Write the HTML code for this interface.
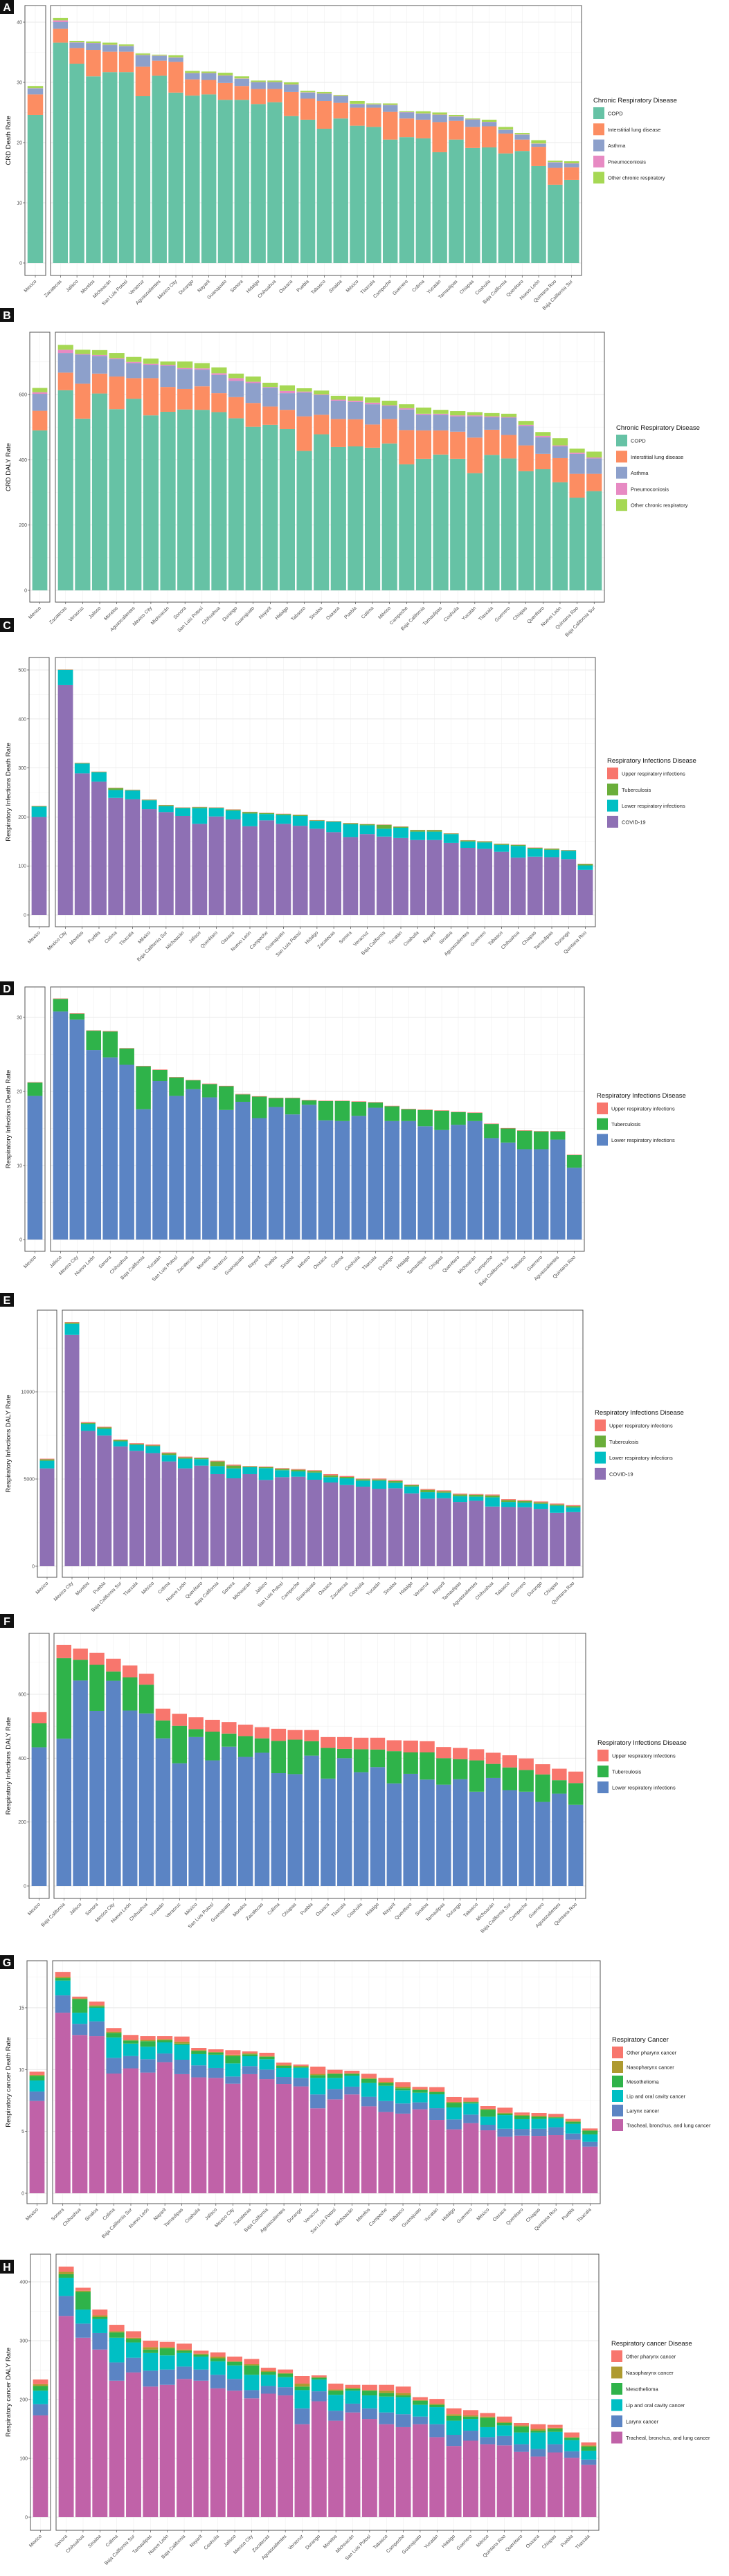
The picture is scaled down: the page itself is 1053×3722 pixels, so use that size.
<!DOCTYPE html>
<html><head><meta charset="utf-8"><style>
html,body{margin:0;padding:0;background:#fff;}
svg{display:block;font-family:"Liberation Sans",sans-serif;}
</style></head><body>
<svg id="fig" xmlns="http://www.w3.org/2000/svg" width="1053" height="3722" viewBox="0 0 1053 3722"></svg>
<script>
// ===== Panel A: CRD death rate (stacked tops, Mexico first) =====
const A_states=["Mexico","Zacatecas","Jalisco","Morelos","Michoacán","San Luis Potosí","Veracruz","Aguascalientes","Mexico City","Durango","Nayarit","Guanajuato","Sonora","Hidalgo","Chihuahua","Oaxaca","Puebla","Tabasco","Sinaloa","México","Tlaxcala","Campeche","Guerrero","Colima","Yucatán","Tamaulipas","Chiapas","Coahuila","Baja California","Querétaro","Nuevo León","Quintana Roo","Baja California Sur"];
const A_copd=[24.6,36.6,33.1,31.0,31.7,31.7,27.7,31.1,28.3,27.8,28.0,27.1,27.1,26.4,26.7,24.4,23.8,22.3,24.0,22.8,22.6,20.5,20.9,20.7,18.4,20.5,19.1,19.2,18.2,18.6,16.1,13.0,13.8];
const A_ild=[28.0,38.9,35.7,35.4,35.1,35.1,32.6,33.6,33.4,30.5,30.4,29.9,29.4,28.9,28.9,28.4,27.3,26.9,26.6,25.8,25.8,25.1,24.0,23.8,23.4,23.6,22.6,22.7,21.5,20.5,19.3,15.8,15.9];
const A_asthma=[29.0,40.0,36.6,36.5,36.2,36.0,34.5,34.4,34.1,31.5,31.5,31.1,30.6,30.0,30.0,29.6,28.3,28.1,27.7,26.4,26.3,26.2,25.0,24.8,24.6,24.3,23.8,23.4,22.1,21.3,19.8,16.7,16.5];
const A_pneumo=[29.05,40.3,36.65,36.55,36.25,36.05,34.55,34.45,34.15,31.55,31.55,31.15,30.65,30.05,30.05,29.65,28.35,28.15,27.75,26.45,26.35,26.25,25.05,24.85,24.65,24.35,23.85,23.45,22.15,21.35,19.85,16.75,16.55];
const A_other=[29.4,40.7,36.9,36.8,36.6,36.3,34.8,34.6,34.5,31.9,31.8,31.6,31.0,30.3,30.3,30.0,28.6,28.4,27.9,26.9,26.5,26.5,25.2,25.2,25.0,24.6,24.0,23.8,22.6,21.6,20.4,17.0,16.9];
const A_ticks=[0,10,20,30,40];
// ===== Panel B: CRD DALY rate =====
const B_states=["Mexico","Zacatecas","Veracruz","Jalisco","Morelos","Aguascalientes","Mexico City","Michoacán","Sonora","San Luis Potosí","Chihuahua","Durango","Guanajuato","Nayarit","Hidalgo","Tabasco","Sinaloa","Oaxaca","Puebla","Colima","México","Campeche","Baja California","Tamaulipas","Coahuila","Yucatán","Tlaxcala","Guerrero","Chiapas","Querétaro","Nuevo León","Quintana Roo","Baja California Sur"];
const B_copd=[490,613,526,603,555,587,536,547,554,553,546,527,501,507,494,427,478,439,441,437,450,386,403,416,403,359,415,404,365,371,331,284,304];
const B_ild=[550,667,633,664,655,650,650,623,617,625,604,592,574,563,553,533,538,525,524,508,525,491,490,490,486,468,492,476,444,418,405,357,357];
const B_asthma=[602,727,722,718,708,696,691,688,678,676,660,642,635,621,604,606,598,581,577,570,565,554,538,538,533,533,530,529,504,469,441,418,404];
const B_pneumo=[607,737,724,721,711,700,694,691,681,680,665,650,639,623,611,609,600,584,581,575,567,558,541,541,536,536,533,531,507,473,444,422,407];
const B_other=[620,752,737,736,727,715,710,701,701,696,683,664,655,636,628,619,612,596,594,591,581,570,560,553,549,546,543,541,519,485,466,434,425];
const B_ticks=[0,200,400,600];
// ===== Panel C: Respiratory infections death rate =====
const C_states=["Mexico","Mexico City","Morelos","Puebla","Colima","Tlaxcala","México","Baja California Sur","Michoacán","Jalisco","Querétaro","Oaxaca","Nuevo León","Campeche","Guanajuato","San Luis Potosí","Hidalgo","Zacatecas","Sonora","Veracruz","Baja California","Yucatán","Coahuila","Nayarit","Sinaloa","Aguascalientes","Guerrero","Tabasco","Chihuahua","Chiapas","Tamaulipas","Durango","Quintana Roo"];
const C_covid=[200,469,289,272,239,236,216,210,202,186,201,195,181,193,186,182,176,169,159,165,160,157,153,153,147,137,135,129,117,119,118,114,92];
const C_lri=[221,500,309,291,255,254,234,222,218,218,218,213,207,206,204,202,192,190,185,183,176,178,170,170,165,150,148,143,141,135,133,131,101];
const C_tb=[222,500.5,310,292,259,255,235,224,219,220,219,215,210,208,206,204,193,191,187,185,184,180,173,173,166,152,150,145,143,137,135,132,104];
const C_uri=[222.6,501,310.6,292.6,259.6,255.6,235.6,224.6,219.6,220.6,219.6,215.6,210.6,208.6,206.6,204.6,193.6,191.6,187.6,185.6,184.6,180.6,173.6,173.6,166.6,152.6,150.6,145.6,143.6,137.6,135.6,132.6,104.6];
const C_ticks=[0,100,200,300,400,500];
// ===== Panel D: Respiratory infections (no COVID) death rate =====
const D_states=["Mexico","Jalisco","Mexico City","Nuevo León","Sonora","Chihuahua","Baja California","Yucatán","San Luis Potosí","Zacatecas","Morelos","Veracruz","Guanajuato","Nayarit","Puebla","Sinaloa","México","Oaxaca","Colima","Coahuila","Tlaxcala","Durango","Hidalgo","Tamaulipas","Chiapas","Querétaro","Michoacán","Campeche","Baja California Sur","Tabasco","Guerrero","Aguascalientes","Quintana Roo"];
const D_lri=[19.4,30.8,29.7,25.6,24.6,23.6,17.6,21.4,19.4,20.3,19.2,17.5,18.6,16.4,17.9,16.9,18.2,16.1,16.0,16.7,17.8,16.0,16.0,15.3,14.8,15.5,16.0,13.7,13.1,12.2,12.2,13.5,9.7];
const D_tb=[21.2,32.5,30.5,28.2,28.1,25.8,23.4,22.9,21.9,21.5,21.0,20.7,19.6,19.3,19.1,19.1,18.8,18.7,18.7,18.6,18.5,18.0,17.6,17.5,17.4,17.2,17.1,15.6,15.0,14.7,14.6,14.6,11.4];
const D_uri=[21.26,32.56,30.56,28.26,28.16,25.86,23.46,22.96,21.96,21.56,21.06,20.76,19.66,19.36,19.16,19.16,18.86,18.76,18.76,18.66,18.56,18.06,17.66,17.56,17.46,17.26,17.16,15.66,15.06,14.76,14.66,14.66,11.46];
const D_ticks=[0,10,20,30];
// ===== Panel E: Respiratory infections DALY rate =====
const E_states=["Mexico","Mexico City","Morelos","Puebla","Baja California Sur","Tlaxcala","México","Colima","Nuevo León","Querétaro","Baja California","Sonora","Michoacán","Jalisco","San Luis Potosí","Campeche","Guanajuato","Oaxaca","Zacatecas","Coahuila","Yucatán","Sinaloa","Hidalgo","Veracruz","Nayarit","Tamaulipas","Aguascalientes","Chihuahua","Tabasco","Guerrero","Durango","Chiapas","Quintana Roo"];
const E_covid=[5610,13263,7759,7493,6870,6618,6485,6008,5610,5769,5279,5040,5279,4947,5106,5133,4960,4801,4655,4562,4443,4469,4178,3873,3899,3687,3753,3422,3395,3382,3289,3064,3103];
const E_lri=[6048,13899,8156,7878,7162,6963,6883,6379,6167,6141,5743,5610,5676,5623,5504,5438,5371,5106,5040,4907,4907,4788,4576,4244,4218,4019,3992,3952,3687,3647,3581,3475,3369];
const E_tb=[6127,13966,8223,7958,7228,7003,6923,6472,6233,6194,6008,5769,5716,5676,5584,5531,5464,5212,5119,4987,4973,4881,4642,4377,4297,4111,4098,4058,3793,3740,3660,3541,3448];
const E_uri=[6167,14005,8263,7997,7268,7056,6976,6525,6286,6233,6048,5822,5743,5716,5623,5570,5504,5279,5172,5027,5027,4934,4682,4430,4350,4164,4138,4111,3846,3793,3714,3594,3501];
const E_ticks=[0,5000,10000];
// ===== Panel F: Respiratory infections (no COVID) DALY rate =====
const F_states=["Mexico","Baja California","Jalisco","Sonora","Mexico City","Nuevo León","Chihuahua","Yucatán","Veracruz","México","San Luis Potosí","Guanajuato","Morelos","Zacatecas","Colima","Chiapas","Puebla","Oaxaca","Tlaxcala","Coahuila","Hidalgo","Nayarit","Querétaro","Sinaloa","Tamaulipas","Durango","Tabasco","Michoacán","Baja California Sur","Campeche","Guerrero","Aguascalientes","Quintana Roo"];
const F_lri=[434,461,643,548,642,549,540,462,384,466,393,436,404,417,353,350,408,336,400,356,372,321,351,333,317,334,295,338,300,295,263,289,254];
const F_tb=[509,713,708,692,671,653,630,518,501,491,483,477,469,462,454,458,453,432,429,428,427,422,418,418,400,397,393,382,371,363,349,331,322];
const F_uri=[544,754,743,730,711,690,664,555,539,528,520,513,505,497,492,488,488,466,466,464,464,456,455,453,435,432,428,417,409,399,381,367,358];
const F_ticks=[0,200,400,600];
// ===== Panel G: Respiratory cancer death rate =====
const G_states=["Mexico","Sonora","Chihuahua","Sinaloa","Colima","Baja California Sur","Nuevo León","Nayarit","Tamaulipas","Coahuila","Jalisco","Mexico City","Zacatecas","Baja California","Aguascalientes","Durango","Veracruz","San Luis Potosí","Michoacán","Morelos","Campeche","Tabasco","Guanajuato","Yucatán","Hidalgo","Guerrero","México","Oaxaca","Querétaro","Chiapas","Quintana Roo","Puebla","Tlaxcala"];
const G_tbl=[7.46,14.6,12.8,12.7,9.68,10.1,9.76,10.6,9.63,9.37,9.33,8.86,9.63,9.23,8.84,8.64,6.87,7.59,7.99,7.03,6.57,6.44,6.79,5.93,5.17,5.67,5.09,4.57,4.66,4.64,4.7,4.33,3.77];
const G_larynx=[8.23,16.0,13.7,13.9,10.95,11.1,10.84,11.3,10.8,10.34,10.13,9.44,10.28,10.0,9.4,9.33,7.99,8.43,8.62,7.8,7.46,7.26,7.35,6.88,5.97,6.36,5.54,5.22,5.2,5.22,5.34,4.83,4.16];
const G_lip=[9.12,17.2,14.6,15.0,12.6,12.1,11.85,12.2,12.0,11.25,11.2,10.5,11.08,10.84,10.13,10.15,9.33,9.33,9.51,8.92,8.69,8.32,8.13,8.0,6.94,7.26,6.19,6.32,5.99,6.01,6.06,5.62,4.76];
const G_meso=[9.5,17.4,15.7,15.1,12.97,12.35,12.3,12.37,12.1,11.5,11.38,11.1,11.23,11.04,10.3,10.22,9.55,9.65,9.65,9.25,8.9,8.49,8.34,8.17,7.31,7.37,6.75,6.44,6.27,6.18,6.14,5.78,5.06];
const G_naso=[9.57,17.5,15.75,15.2,13.06,12.4,12.4,12.46,12.26,11.57,11.42,11.2,11.32,11.1,10.39,10.3,9.65,9.7,9.7,9.33,9.01,8.62,8.41,8.23,7.39,7.41,6.83,6.51,6.34,6.27,6.18,5.86,5.09];
const G_pharynx=[9.83,17.9,15.9,15.5,13.36,12.8,12.7,12.7,12.67,11.75,11.64,11.57,11.47,11.36,10.56,10.41,10.24,9.98,9.91,9.66,9.33,8.99,8.6,8.58,7.78,7.74,7.05,6.92,6.53,6.49,6.42,6.01,5.24];
const G_ticks=[0,5,10,15];
// ===== Panel H: Respiratory cancer DALY rate =====
const H_states=["Mexico","Sonora","Chihuahua","Sinaloa","Colima","Baja California Sur","Tamaulipas","Nuevo León","Baja California","Nayarit","Coahuila","Jalisco","Mexico City","Zacatecas","Aguascalientes","Veracruz","Durango","Morelos","Michoacán","San Luis Potosí","Tabasco","Campeche","Guanajuato","Yucatán","Hidalgo","Guerrero","México","Quintana Roo","Querétaro","Oaxaca","Chiapas","Puebla","Tlaxcala"];
const H_tbl=[173,342,305,285,232,246,222,225,235,232,219,215,202,210,207,158,197,164,178,167,158,153,158,136,121,130,124,122,111,103,110,101,89];
const H_larynx=[192,376,329,313,263,271,249,251,256,251,242,235,216,223,221,185,214,181,193,185,178,175,171,158,140,147,136,138,124,116,124,112,98];
const H_lip=[215,407,353,337,305,297,279,275,279,273,265,258,242,242,238,216,234,208,215,207,205,204,191,187,164,167,153,156,144,144,145,131,113];
const H_meso=[223,413,383,340,314,303,285,287,283,276,270,264,258,247,244,222,237,215,218,215,211,207,198,191,172,171,169,160,154,147,150,135,120];
const H_naso=[226,417,385,343,316,305,289,289,285,278,273,265,260,249,245,227,238,217,220,216,215,211,199,193,175,173,171,162,156,150,152,136,122];
const H_pharynx=[234,426,390,353,327,316,300,298,295,283,280,273,269,254,251,240,241,227,225,225,225,222,204,201,185,182,177,171,160,158,157,144,127];
const H_ticks=[0,100,200,300,400];

const NS="http://www.w3.org/2000/svg";
const svg=document.getElementById('fig');
function mk(tag,attrs,parent){const e=document.createElementNS(NS,tag);for(const k in attrs)e.setAttribute(k,attrs[k]);(parent||svg).appendChild(e);return e;}

const crdKeys=["COPD","Interstitial lung disease","Asthma","Pneumoconiosis","Other chronic respiratory"];
const crdCols=["#66c2a5","#fc8d62","#8da0cb","#e78ac3","#a6d854"];
const infKeys=["COVID-19","Lower respiratory infections","Tuberculosis","Upper respiratory infections"];
const infCols=["#8e70b4","#00bfc4","#6aae3a","#f8766d"];
const inf3Keys=["Lower respiratory infections","Tuberculosis","Upper respiratory infections"];
const inf3Cols=["#5b84c4","#2fb34a","#f8766d"];
const canKeys=["Tracheal, bronchus, and lung cancer","Larynx cancer","Lip and oral cavity cancer","Mesothelioma","Nasopharynx cancer","Other pharynx cancer"];
const canCols=["#c062a8","#5b84c4","#00bfc4","#2fb34a","#ae9a30","#f8766d"];

const panels=[
 {id:"A",lab:0,states:A_states,series:[A_copd,A_ild,A_asthma,A_pneumo,A_other],keys:crdKeys,cols:crdCols,ticks:A_ticks,minor:5,y0:380,k:8.7,top:8,bot:398,mx:[36,66],x:[73,840],ytitle:"CRD Death Rate",lt:"Chronic Respiratory Disease",lx:857,ly:145,ls:23.3},
 {id:"B",lab:445,states:B_states,series:[B_copd,B_ild,B_asthma,B_pneumo,B_other],keys:crdKeys,cols:crdCols,ticks:B_ticks,minor:100,y0:853,k:0.4717,top:480,bot:870,mx:[43,72],x:[80,873],ytitle:"CRD DALY Rate",lt:"Chronic Respiratory Disease",lx:890,ly:618,ls:23.3},
 {id:"C",lab:893,states:C_states,series:[C_covid,C_lri,C_tb,C_uri],keys:infKeys,cols:infCols,ticks:C_ticks,minor:50,y0:1322,k:0.708,top:950,bot:1339,mx:[42,71],x:[80,860],ytitle:"Respiratory Infections Death Rate",lt:"Respiratory Infections Disease",lx:877,ly:1099,ls:23.3},
 {id:"D",lab:1418,states:D_states,series:[D_lri,D_tb,D_uri],keys:inf3Keys,cols:inf3Cols,ticks:D_ticks,minor:5,y0:1791,k:10.7,top:1426,bot:1808,mx:[36,65],x:[73,844],ytitle:"Respiratory Infections Death Rate",lt:"Respiratory Infections Disease",lx:862,ly:1583,ls:22.7},
 {id:"E",lab:1868,states:E_states,series:[E_covid,E_lri,E_tb,E_uri],keys:infKeys,cols:infCols,ticks:E_ticks,minor:2500,y0:2263,k:0.0252,top:1893,bot:2279,mx:[54,82],x:[90,842],ytitle:"Respiratory Infections DALY Rate",lt:"Respiratory Infections Disease",lx:859,ly:2041,ls:23.3},
 {id:"F",lab:2332,states:F_states,series:[F_lri,F_tb,F_uri],keys:inf3Keys,cols:inf3Cols,ticks:F_ticks,minor:100,y0:2725,k:0.4617,top:2360,bot:2743,mx:[42,71],x:[78,846],ytitle:"Respiratory Infections DALY Rate",lt:"Respiratory Infections Disease",lx:863,ly:2518,ls:23},
 {id:"G",lab:2825,states:G_states,series:[G_tbl,G_larynx,G_lip,G_meso,G_naso,G_pharynx],keys:canKeys,cols:canCols,ticks:G_ticks,minor:2.5,y0:3169,k:17.87,top:2833,bot:3184,mx:[39,68],x:[76,867],ytitle:"Respiratory cancer Death Rate",lt:"Respiratory Cancer",lx:884,ly:2947,ls:21},
 {id:"H",lab:3265,states:H_states,series:[H_tbl,H_larynx,H_lip,H_meso,H_naso,H_pharynx],keys:canKeys,cols:canCols,ticks:H_ticks,minor:50,y0:3637,k:0.85,top:3257,bot:3656,mx:[44,73],x:[81,865],ytitle:"Respiratory cancer DALY Rate",lt:"Respiratory cancer Disease",lx:883,ly:3386,ls:23.5}
];

panels.forEach(p=>{
  const g=mk('g',{});
  
  
  const yv=v=>p.y0-v*p.k;
  // facets: [x0,x1,indices]
  const n=p.states.length;
  const facets=[{x0:p.mx[0],x1:p.mx[1],idx:[0]},{x0:p.x[0],x1:p.x[1],idx:[...Array(n-1).keys()].map(i=>i+1)}];
  const maxTick=p.ticks[p.ticks.length-1];
  facets.forEach((f,fi)=>{
    const m=f.idx.length, pitch=(f.x1-f.x0)/(m+0.2), bw=pitch*0.9;
    const bg=mk('rect',{x:f.x0,y:p.top,width:f.x1-f.x0,height:p.bot-p.top,fill:'#fff'},g);
    
    
    // horizontal grid
    for(let v=0; v<=maxTick*1.6; v+=p.minor){
      const yy=yv(v); if(yy<p.top||yy>p.bot) continue;
      const major=p.ticks.indexOf(v)>=0;
      const gl=mk('line',{x1:f.x0,x2:f.x1,y1:yy,y2:yy,stroke:major?'#e3e3e3':'#f1f1f1','stroke-width':major?0.8:0.5},g);
      
      
    }
    f.idx.forEach((si,j)=>{
      const cx=f.x0+pitch*(0.6+j);
      const vl=mk('line',{x1:cx,x2:cx,y1:p.top,y2:p.bot,stroke:'#ececec','stroke-width':0.5},g);
      
      
      let prev=0;
      p.series.forEach((arr,k)=>{
        const top=arr[si];
        const r=mk('rect',{x:cx-bw/2,y:yv(top),width:bw,height:Math.max(0,yv(prev)-yv(top)),fill:p.cols[k]},g);
        
        
        prev=top;
      });
      const tk=mk('line',{x1:cx,x2:cx,y1:p.bot,y2:p.bot+3,stroke:'#333','stroke-width':0.6},g);
      
      
      const t=mk('text',{x:cx+2,y:p.bot+9,'font-size':7,fill:'#4d4d4d','text-anchor':'end',transform:`rotate(-45 ${cx+2} ${p.bot+9})`},g);
      t.textContent=p.states[si];
      
      
    });
    const bd=mk('rect',{x:f.x0,y:p.top,width:f.x1-f.x0,height:p.bot-p.top,fill:'none',stroke:'#555','stroke-width':1},g);
    
    
  });
  // y axis ticks
  p.ticks.forEach(v=>{
    const yy=yv(v);
    const tk=mk('line',{x1:p.mx[0]-3,x2:p.mx[0],y1:yy,y2:yy,stroke:'#333','stroke-width':0.6},g);
    
    
    const t=mk('text',{x:p.mx[0]-4,y:yy+2.5,'font-size':7,fill:'#4d4d4d','text-anchor':'end'},g);
    t.textContent=v;
    
    
  });
  const cy=(p.top+p.bot)/2;
  const yt=mk('text',{x:15,y:cy,'font-size':9.5,fill:'#111','text-anchor':'middle',transform:`rotate(-90 15 ${cy})`},g);
  yt.textContent=p.ytitle;
  
  
  // panel label
  const lb=mk('rect',{x:0,y:p.lab,width:20,height:20,fill:'#111'},g);
  
  
  const lt=mk('text',{x:10,y:p.lab+16,'font-size':16,'font-weight':'bold',fill:'#fff','text-anchor':'middle'},g);
  lt.textContent=p.id;
  
  
  // legend
  const lg=mk('g',{},g);
  
  
  const tt=mk('text',{x:p.lx,y:p.ly+3,'font-size':9.5,fill:'#111'},lg);
  tt.textContent=p.lt;
  
  
  const order=p.id<='B'?[...p.keys.keys()]:[...p.keys.keys()].reverse();
  order.forEach((k,i)=>{
    const ky=p.ly+10+i*p.ls;
    const sw=mk('rect',{x:p.lx,y:ky,width:16,height:17,fill:p.cols[k]},lg);
    
    
    const et=mk('text',{x:p.lx+21,y:ky+11.5,'font-size':7.5,fill:'#222'},lg);
    et.textContent=p.keys[k];
    
    
  });
});
</script>
</body></html>
